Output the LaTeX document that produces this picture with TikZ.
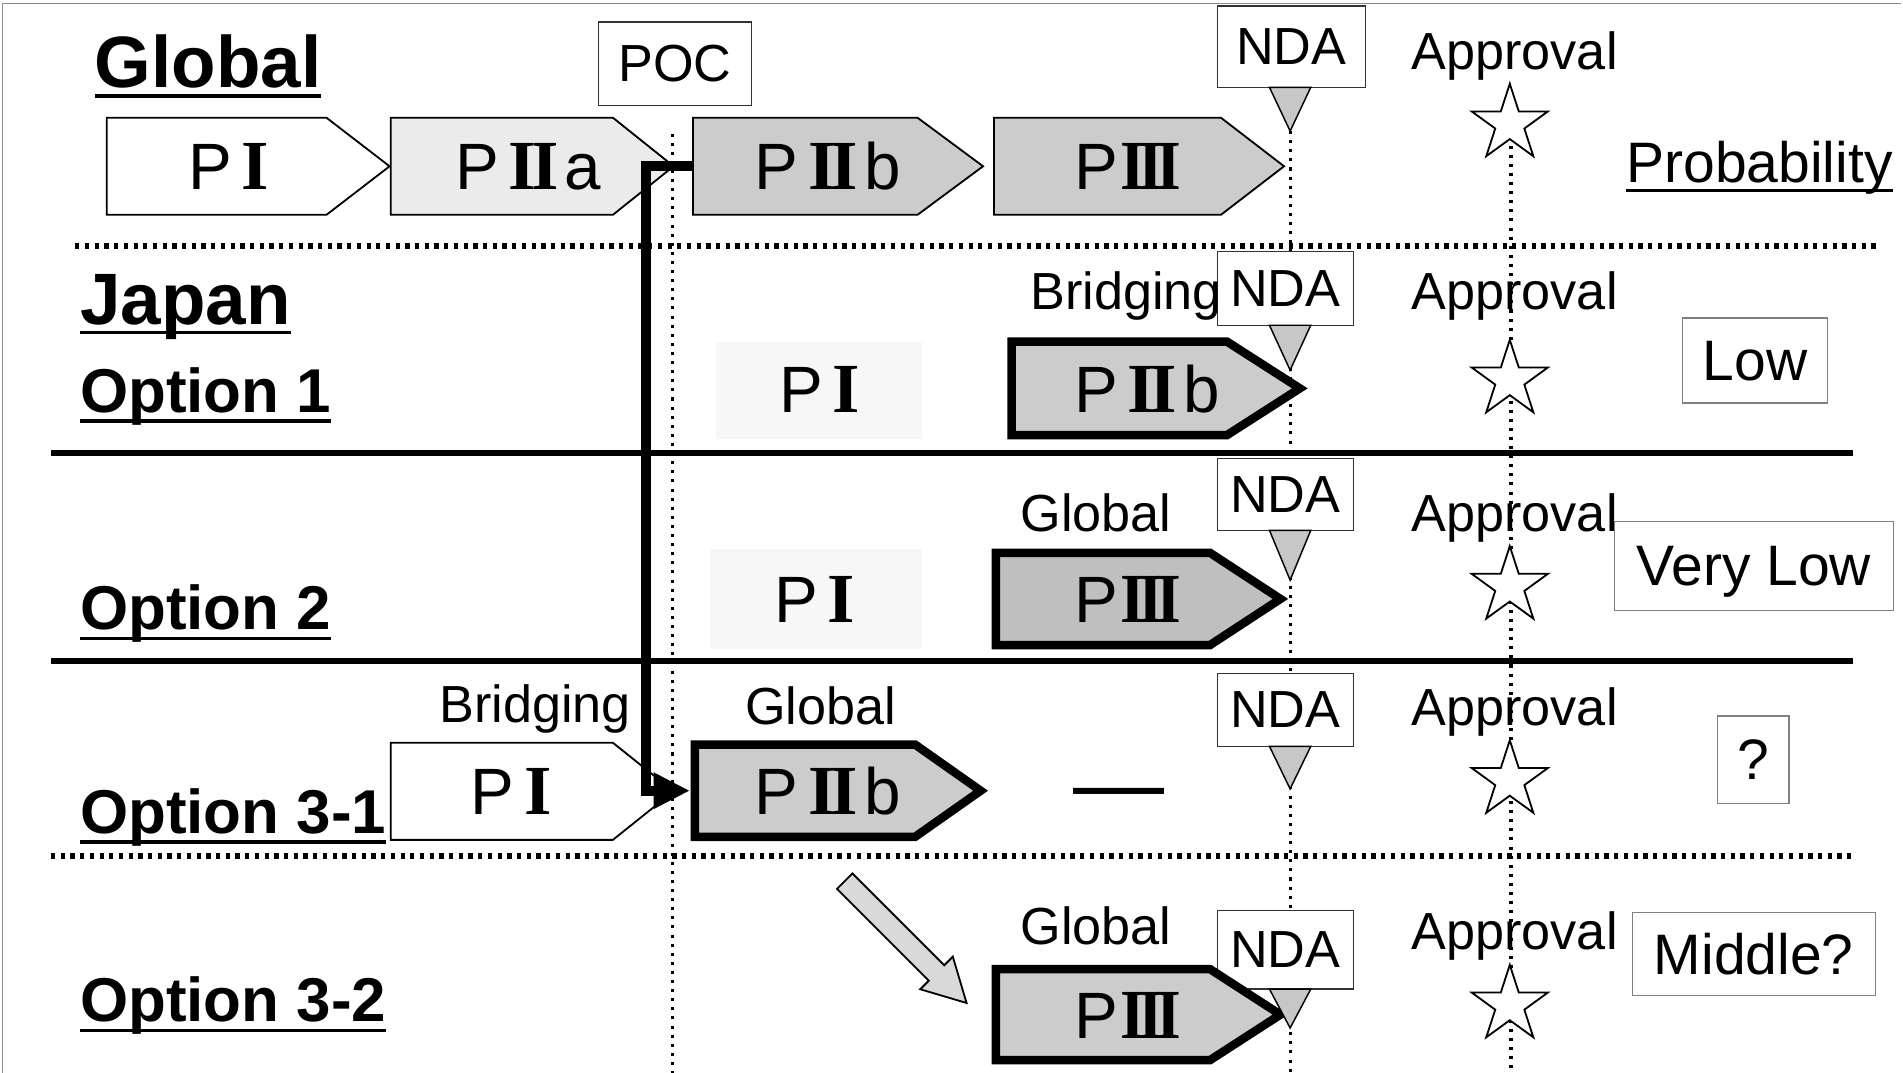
\documentclass[tikz,border=0pt]{standalone}
\usepackage{fontspec}
\usepackage{graphicx}
\setmainfont{Liberation Sans}
\newfontfamily\rnfont{Liberation Serif}
\usetikzlibrary{shapes.geometric,arrows.meta,calc}
\newcommand\rnsize{\rnfont\bfseries\fontsize{58}{60}\selectfont}
\newcommand\rnI{{\rnsize I}}
\newcommand\rnII{{\rnsize I\kern-0.07em I}}
\newcommand\rnIII{\scalebox{0.9}[1]{\rnsize I\kern-0.1em I\kern-0.1em I}}
% name, style, x0, body end, tip, ytop, ybot, text left, text
\newcommand\phasearrow[9]{%
  \path[#2] (#3,#6) -- (#4,#6) -- (#5,{(#6+#7)/2}) -- (#4,#7) -- (#3,#7) -- cycle;
  \coordinate (#1-w) at (#3,{(#6+#7)/2});
  \node[ph] (#1) at (#8,{(#6+#7)/2}) {#9};}
\begin{document}
\begin{tikzpicture}[x=1pt,y=-1pt,
  every node/.style={inner sep=0pt, outer sep=0pt},
  lbl/.style={font=\fontsize{43}{50}\selectfont, anchor=base},
  head/.style={font=\fontsize{60}{70}\selectfont\bfseries, anchor=base west},
  opt/.style={font=\fontsize{51}{60}\selectfont\bfseries, anchor=base west},
  ph/.style={font=\fontsize{54}{60}\selectfont, anchor=west, text height=39pt, text depth=0pt},
  ul/.style={line width=3pt},
  thinw/.style={draw, line width=1.5pt, line join=miter},
  thickw/.style={draw, line width=7pt, line join=miter},
  dotsep/.style={line width=5pt, dash pattern=on 3.5pt off 4.5pt},
  solidsep/.style={line width=5pt},
  vdot/.style={line width=2.5pt, dash pattern=on 2.5pt off 5pt},
  boxn/.style={draw=black!80, line width=1.2pt, fill=white, font=\fontsize{43}{50}\selectfont, text depth=0pt},
  probbox/.style={draw=black!50, line width=1pt, fill=white, font=\fontsize{47}{55}\selectfont, text depth=0pt},
  tri/.style={draw, line width=1.2pt, fill=black!22, line join=miter},
  apstar/.style={star, star points=5, star point ratio=2.618, minimum size=66pt, draw, line width=1.5pt, fill=white},
  conn/.style={line width=8pt, line join=miter, -{Triangle[length=30pt,width=28pt]}},
  blk/.style={draw, line width=1.5pt, fill=black!15, line join=miter}
]
\useasboundingbox (0,0) rectangle (1568,884);
% frame
\draw[black!45, line width=1pt] (2,884) -- (2,3) -- (1566,3);
% faint ghost areas
\fill[black!3] (590,282) rectangle (760,362);
\fill[black!3] (585,452) rectangle (760,535);
% separators
\draw[dotsep] (62,203) -- (1547,203);
\draw[solidsep] (42,373) -- (1527,373);
\draw[solidsep] (42,545) -- (1527,545);
\draw[dotsep] (42,705) -- (1527,705);
% vertical dotted lines
\draw[vdot] (554,110) -- (554,884);
\draw[vdot] (1063,108) -- (1063,884);
\draw[vdot] (1245,105) -- (1245,884);
% boxes
\node[boxn, minimum width=126pt, minimum height=69pt] (poc) at (556,52.5) {POC};
\node[boxn, minimum width=122pt, minimum height=67pt] (nda1) at (1064,38.5) {NDA};
\node[boxn, minimum width=112pt, minimum height=61pt] (nda2) at (1059,237.5) {NDA};
\node[boxn, minimum width=112pt, minimum height=59pt] (nda3) at (1059,407.5) {NDA};
\node[boxn, minimum width=112pt, minimum height=60pt] (nda4) at (1059,585) {NDA};
\node[boxn, minimum width=112pt, minimum height=65pt] (nda5) at (1059,782.5) {NDA};
% phase arrows, global
\phasearrow{gPI}{thinw, fill=white}{88}{269}{321}{97}{177}{155}{P\hspace{8pt}\rnI}
\phasearrow{gPIIa}{thinw, fill=black!8}{322}{505}{555}{97}{177}{375}{P\hspace{8pt}\rnII\hspace{5pt}a}
\phasearrow{gPIIb}{thinw, fill=black!20}{571}{756}{810}{97}{177}{622}{P\hspace{8pt}\rnII\hspace{5pt}b}
\phasearrow{gPIII}{thinw, fill=black!20}{819}{1006}{1058}{97}{177}{885}{P\hspace{2pt}\rnIII}
% option 1
\node[ph] (o1PI) at (642,320) {P\hspace{8pt}\rnI};
\phasearrow{o1PIIb}{thickw, fill=black!20}{833.5}{1011}{1071}{281.5}{358.5}{885}{P\hspace{8pt}\rnII\hspace{5pt}b}
% option 2
\node[ph] (o2PI) at (638,493) {P\hspace{8pt}\rnI};
\phasearrow{o2PIII}{thickw, fill=black!25}{820.5}{997}{1055}{455.5}{531.5}{885}{P\hspace{2pt}\rnIII}
% option 3-1
\phasearrow{o31PI}{thinw, fill=white}{322}{505}{555}{612}{692}{388}{P\hspace{8pt}\rnI}
\phasearrow{o31PIIb}{thickw, fill=black!20}{572.5}{754}{808}{613.5}{689.5}{622}{P\hspace{8pt}\rnII\hspace{5pt}b}
\node[font=\fontsize{75}{80}\selectfont, anchor=base] (dash) at (922,671) {—};
% option 3-2
\phasearrow{o32PIII}{thickw, fill=black!20}{820.5}{997}{1055}{798.5}{873.5}{885}{P\hspace{2pt}\rnIII}
% NDA triangles
\draw[tri] (1046,72) -- (1080,72) -- (1063,108) -- cycle;
\draw[tri] (1046,268) -- (1080,268) -- (1063,305) -- cycle;
\draw[tri] (1046,437) -- (1080,437) -- (1063,478) -- cycle;
\draw[tri] (1046,615) -- (1080,615) -- (1063,650) -- cycle;
\draw[tri] (1046,815) -- (1080,815) -- (1063,847) -- cycle;
% stars
\node[apstar] (s1) at (1244,102) {};
\node[apstar] (s2) at (1244,313) {};
\node[apstar] (s3) at (1244,483) {};
\node[apstar] (s4) at (1244,643) {};
\node[apstar] (s5) at (1244,828) {};
% labels
\node[lbl] (ap1) at (1248,57) {Approval};
\node[lbl] (ap2) at (1248,255) {Approval};
\node[lbl] (ap3) at (1248,438) {Approval};
\node[lbl] (ap4) at (1248,598) {Approval};
\node[lbl] (ap5) at (1248,782) {Approval};
\node[lbl] (br2) at (928,255) {Bridging};
\node[lbl] (gl3) at (903,438) {Global};
\node[lbl] (br4) at (441,595) {Bridging};
\node[lbl] (gl4) at (676,597) {Global};
\node[lbl] (gl5) at (903,778) {Global};
% headings
\node[head] (hglobal) at (78,72) {Global};
\node[head] (hjapan) at (66,267) {Japan};
\node[opt] (hopt1) at (66,340) {Option 1};
\node[opt] (hopt2) at (66,519) {Option 2};
\node[opt] (hopt31) at (66,687) {Option 3-1};
\node[opt] (hopt32) at (66,842) {Option 3-2};
\node[font=\fontsize{47}{55}\selectfont, anchor=base west] (hprob) at (1340,150) {Probability};
\foreach \n in {hglobal,hjapan,hopt1,hopt2,hopt31,hopt32,hprob}
  \draw[ul] ([yshift=-7pt]\n.base west) -- ([yshift=-7pt]\n.base east);
% probability boxes
\node[probbox, minimum width=120pt, minimum height=70pt] (low) at (1446,297) {Low};
\node[probbox, minimum width=230pt, minimum height=73pt] (vlow) at (1445,466.5) {Very Low};
\node[probbox, minimum width=59pt, minimum height=72pt] (qm) at (1444.5,626) {?};
\node[probbox, minimum width=200pt, minimum height=68pt] (mid) at (1445,786) {Middle?};
% connector from global PIIb to option 3-1 PIIb
\draw[conn] (gPIIb-w) -- (532,137) |- ([xshift=-4pt]o31PIIb-w);
% block arrow from option 3-1 to option 3-2
\begin{scope}[shift={(696,726)}, rotate=-45]
  \draw[blk] (0,-9) -- (107,-9) -- (107,-19) -- (142,0) -- (107,19) -- (107,9) -- (0,9) -- cycle;
\end{scope}
\end{tikzpicture}
\end{document}
